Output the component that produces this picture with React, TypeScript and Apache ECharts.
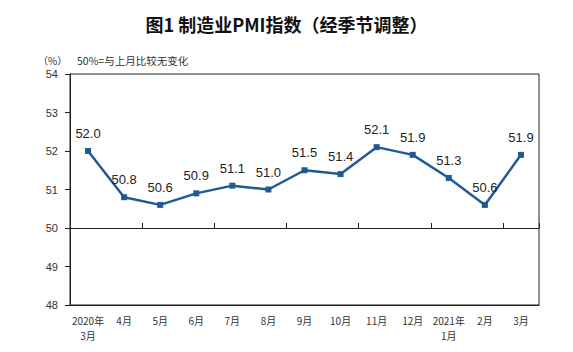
import React, { useEffect, useRef } from "react";
import * as echarts from "echarts";

const categories = ["2020年\n3月", "4月", "5月", "6月", "7月", "8月", "9月", "10月", "11月", "12月", "2021年\n1月", "2月", "3月"];
const pmiValues = [52.0, 50.8, 50.6, 50.9, 51.1, 51.0, 51.5, 51.4, 52.1, 51.9, 51.3, 50.6, 51.9];
const yMin = 48;
const yMax = 54;
const baseLine = 50;

const titleText = "图1 制造业PMI指数（经季节调整）";
const unitText = "（%）";
const noteText = "50%=与上月比较无变化";

export default function App() {
  const ref = useRef<HTMLDivElement>(null);
  useEffect(() => {
    if (!ref.current) return;
    const chart = echarts.init(ref.current, undefined, { renderer: "svg" });
    const gridTop = 74;
    const gridBottom = 47;
    const gridHeight = 352 - gridTop - gridBottom;
    const baseOffset = -((baseLine - yMin) / (yMax - yMin)) * gridHeight;
    chart.setOption({
      animation: false,
      backgroundColor: "#ffffff",
      title: {
        text: titleText,
        left: "center",
        top: 10,
        textStyle: { fontFamily: "Noto Sans CJK SC", fontSize: 18, fontWeight: "bold", color: "#111" },
      },
      graphic: [
        { type: "text", left: 38, top: 55, style: { text: unitText, fontFamily: "Noto Sans CJK SC", fontSize: 10, fill: "#333" } },
        { type: "text", left: 77, top: 55, style: { text: noteText, fontFamily: "Noto Sans CJK SC", fontSize: 10.5, fill: "#333" } },
      ],
      grid: {
        left: 70,
        right: 34,
        top: gridTop,
        bottom: gridBottom,
        show: true,
        borderColor: "#222",
        borderWidth: 1,
        backgroundColor: "transparent",
      },
      xAxis: [
        {
          type: "category",
          data: categories,
          boundaryGap: true,
          position: "bottom",
          axisLine: { show: true, lineStyle: { color: "#222", width: 1 } },
          axisTick: { show: false },
          axisLabel: {
            interval: 0,
            fontFamily: "Noto Sans CJK SC",
            fontSize: 10,
            color: "#333",
            lineHeight: 15,
            margin: 8,
          },
        },
        {
          type: "category",
          data: categories,
          boundaryGap: true,
          position: "bottom",
          offset: baseOffset,
          axisLine: { show: true, lineStyle: { color: "#222", width: 1 } },
          axisTick: { show: true, inside: true, length: 5, lineStyle: { color: "#222" } },
          axisLabel: { show: false },
        },
      ],
      yAxis: {
        type: "value",
        min: yMin,
        max: yMax,
        interval: 1,
        axisLine: { show: true, lineStyle: { color: "#222" } },
        axisTick: { show: true, inside: false, length: 5, lineStyle: { color: "#222" } },
        splitLine: { show: false },
        axisLabel: { fontFamily: "Liberation Sans", fontSize: 11, color: "#333", margin: 12 },
      },
      series: [
        {
          type: "line",
          data: pmiValues,
          xAxisIndex: 0,
          symbol: "rect",
          symbolSize: 6,
          itemStyle: { color: "#1f5a96" },
          lineStyle: { color: "#1f5a96", width: 2.5 },
          label: {
            show: true,
            position: "top",
            distance: 8,
            fontFamily: "Liberation Sans",
            fontSize: 13,
            color: "#222",
            formatter: (p: any) => Number(p.value).toFixed(1),
          },
        },
      ],
    });
    return () => chart.dispose();
  }, []);
  return <div ref={ref} style={{ width: 573, height: 352, position: "absolute", left: 0, top: 0 }} />;
}
